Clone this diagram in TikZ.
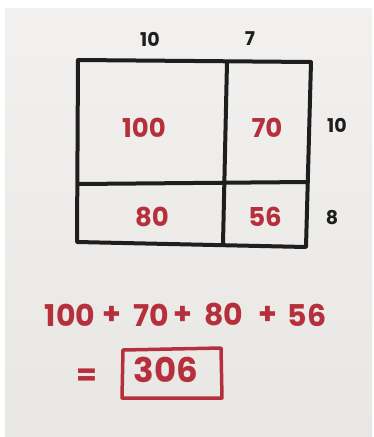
\documentclass[tikz,border=0pt]{standalone}
\usepackage{fontspec}
\setmainfont{Poppins}
\definecolor{ink}{HTML}{B5303C}
\definecolor{paper}{HTML}{E9E7E4}
\definecolor{pen}{HTML}{1E1E1E}
\begin{document}
\begin{tikzpicture}[x=1pt,y=-1pt,
  gridline/.style={draw=pen,line width=4pt,line cap=round,line join=round},
  cellnum/.style={text=ink,font=\fontsize{26}{26}\selectfont\bfseries,inner sep=0pt},
  dimlab/.style={text=pen,font=\fontsize{19}{19}\selectfont\bfseries,inner sep=0pt},
  eqnum/.style={text=ink,font=\fontsize{30}{30}\selectfont\bfseries,inner sep=0pt}]
\useasboundingbox (0,0) rectangle (373,437);
\fill[white] (0,0) rectangle (373,437);
\shade[top color=paper!60!white,bottom color=paper] (5,8) rectangle (372,436);
% grid
\coordinate (tl) at (78,60);
\coordinate (tr) at (311,62);
\coordinate (br) at (306,247);
\coordinate (bl) at (77,242);
\coordinate (vt) at (227,62);
\coordinate (vb) at (223,244);
\coordinate (hl) at (78,184);
\coordinate (hr) at (308,182);
\draw[gridline] (tl) -- (tr) -- (br) -- (bl) -- cycle;
\draw[gridline] (vt) -- (vb);
\draw[gridline] (hl) -- (hr);
% dimension labels
\node[dimlab] (t10) at (150,39) {10};
\node[dimlab] (t7) at (250,39) {7};
\node[dimlab] (r10) at (337,125) {10};
\node[dimlab] (r8) at (332,218) {8};
% cells
\node[cellnum] (c100) at (144,128) {100};
\node[cellnum] (c70) at (267,128) {70};
\node[cellnum] (c80) at (152,217) {80};
\node[cellnum] (c56) at (265,217) {56};
% equation
\node[eqnum] (e100) at (70,315) {100};
\node[eqnum] (p1) at (112,315) {+};
\node[eqnum] (e70) at (151,315) {70};
\node[eqnum] (p2) at (183,315) {+};
\node[eqnum] (e80) at (224,315) {80};
\node[eqnum] (p3) at (268,315) {+};
\node[eqnum] (e56) at (307,315) {56};
\node[eqnum] (eq) at (87,377) {=};
\node[eqnum,font=\fontsize{34}{34}\selectfont\bfseries] (res) at (166,370) {306};
\draw[draw=ink,line width=3.5pt,line join=round] (123,350) -- (221,348) -- (222,398) -- (122,398) -- cycle;
\end{tikzpicture}
\end{document}
